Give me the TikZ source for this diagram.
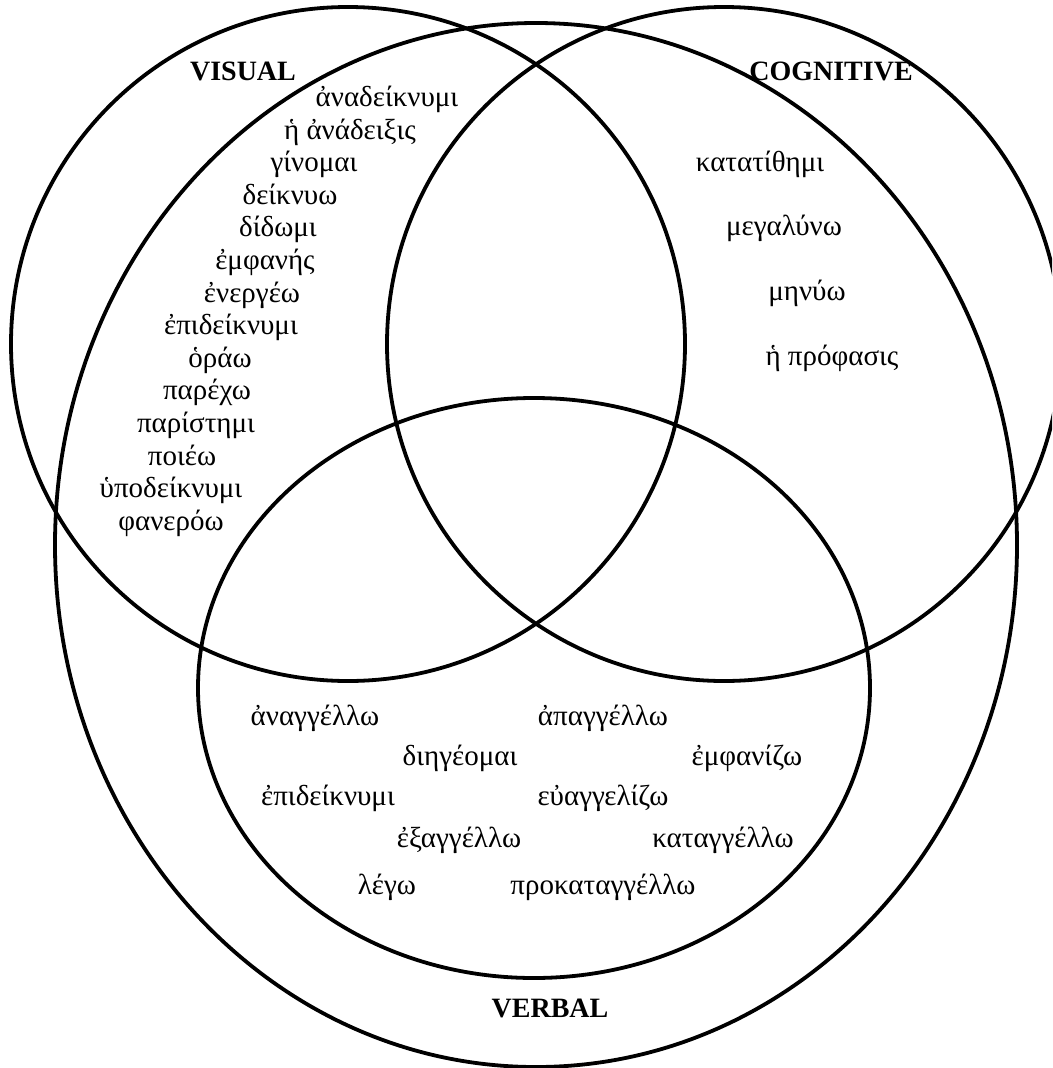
\documentclass[tikz,border=0pt]{standalone}
\usepackage{fontspec}
\setmainfont{Liberation Serif}

\begin{document}
\begin{tikzpicture}[x=1pt,y=-1pt,
		ring/.style={line width=3.8pt},
		word/.style={font=\fontsize{29}{33}\selectfont, anchor=mid, inner sep=0pt},
		setname/.style={font=\fontsize{28}{32}\selectfont\bfseries, anchor=base, inner sep=0pt}]
			\clip(0,0) rectangle (1052,1068);
			\draw[ring](348,344) circle[radius=337pt];
			\draw[ring](724,344) circle[radius=337pt];
			\draw[ring](536,545) ellipse[x radius=481pt, y radius=522pt];
			\draw[ring](534,688) ellipse[x radius=336pt, y radius=290pt];
			\node[setname] (visual) at (243,80) {VISUAL};
			\node[setname] (cognitive) at (831,80) {COGNITIVE};
			\node[setname] (verbal) at (550,1017) {VERBAL};
			\node[word] (vis1) at (387,104) {ἀναδείκνυμι};
			\node[word] (vis2) at (350,137) {ἡ ἀνάδειξις};
			\node[word] (vis3) at (314,169) {γίνομαι};
			\node[word] (vis4) at (290,202) {δείκνυω};
			\node[word] (vis5) at (278,234) {δίδωμι};
			\node[word] (vis6) at (265,267) {ἐμφανής};
			\node[word] (vis7) at (252,300) {ἐνεργέω};
			\node[word] (vis8) at (231,332) {ἐπιδείκνυμι};
			\node[word] (vis9) at (220,365) {ὁράω};
			\node[word] (vis10) at (207,397) {παρέχω};
			\node[word] (vis11) at (196,430) {παρίστημι};
			\node[word] (vis12) at (182,463) {ποιέω};
			\node[word] (vis13) at (171,495) {ὑποδείκνυμι};
			\node[word] (vis14) at (171,528) {φανερόω};
			\node[word] (cog1) at (760,169) {κατατίθημι};
			\node[word] (cog2) at (784,233) {μεγαλύνω};
			\node[word] (cog3) at (807,298) {μηνύω};
			\node[word] (cog4) at (832,363) {ἡ πρόφασις};
			\node[word] (verb1) at (315,723) {ἀναγγέλλω};
			\node[word] (verb2) at (603,723) {ἀπαγγέλλω};
			\node[word] (verb3) at (460,763) {διηγέομαι};
			\node[word] (verb4) at (747,763) {ἐμφανίζω};
			\node[word] (verb5) at (328,803) {ἐπιδείκνυμι};
			\node[word] (verb6) at (603,803) {εὐαγγελίζω};
			\node[word] (verb7) at (459,845) {ἐξαγγέλλω};
			\node[word] (verb8) at (723,845) {καταγγέλλω};
			\node[word] (verb9) at (387,892) {λέγω};
			\node[word] (verb10) at (603,892) {προκαταγγέλλω};
		\end{tikzpicture}
\end{document}
